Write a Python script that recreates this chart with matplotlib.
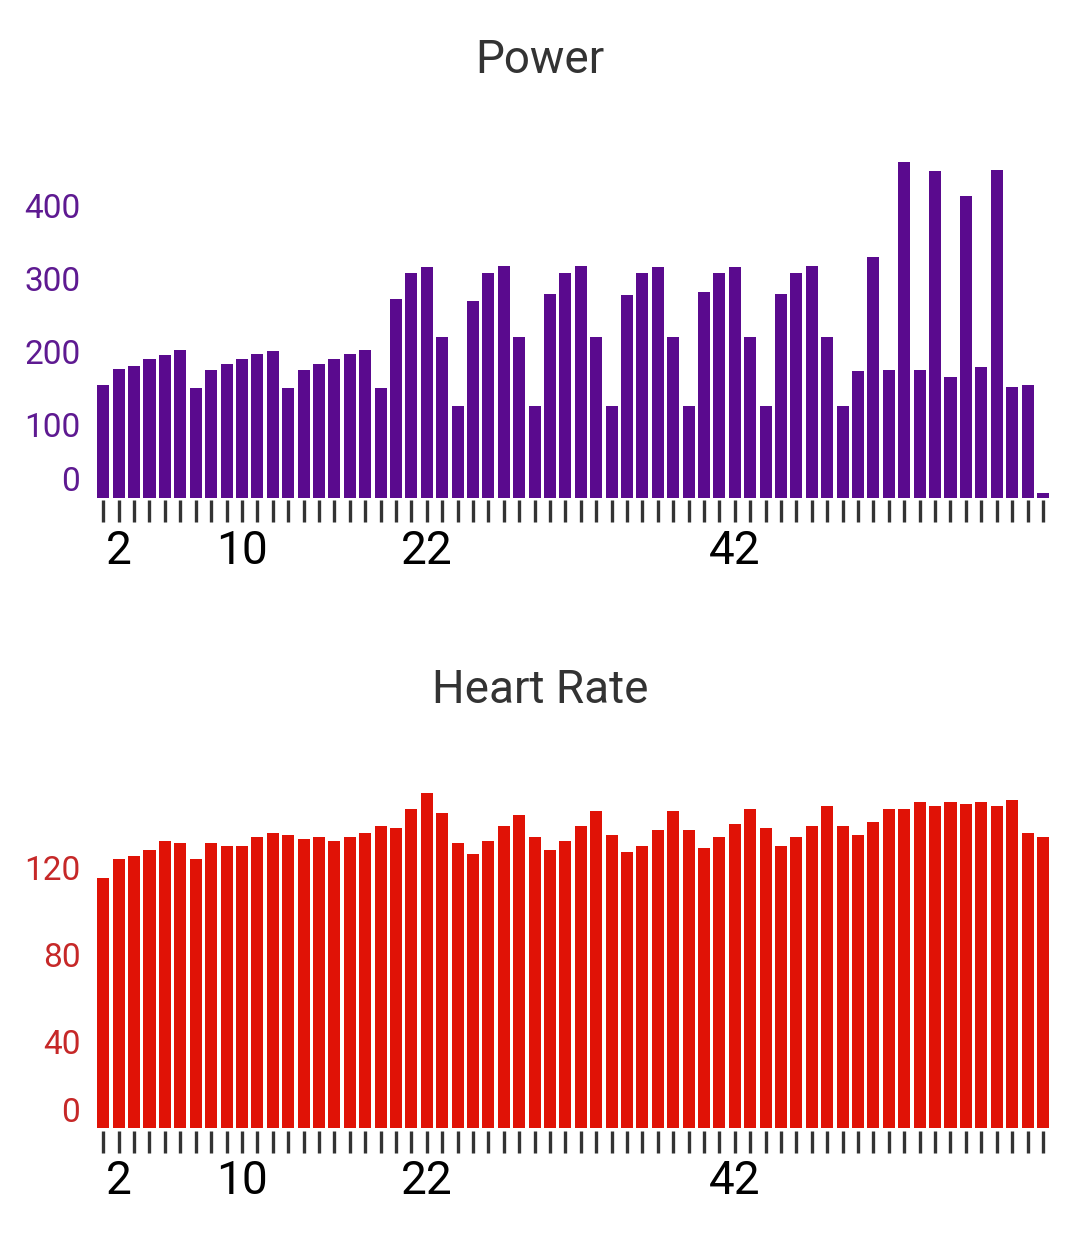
import matplotlib.pyplot as plt
import matplotlib.transforms as mtransforms

plt.rcParams['font.family'] = ['Roboto', 'DejaVu Sans']

# Data
laps = list(range(1, 63))
power = [155, 177, 181, 190, 195, 202, 150, 175, 183, 190, 197, 201,
         150, 175, 183, 190, 197, 202, 150, 272, 308, 316, 220, 126,
         270, 308, 318, 220, 126, 279, 308, 318, 220, 126, 278, 308,
         316, 220, 126, 282, 308, 316, 220, 126, 279, 308, 318, 220,
         126, 173, 330, 175, 460, 175, 447, 166, 414, 179, 449, 151,
         155, 7]
heart_rate = [115, 124, 125, 128, 132, 131, 124, 131, 130, 130, 134, 136,
              135, 133, 134, 132, 134, 136, 139, 138, 147, 154, 145, 131,
              126, 132, 139, 144, 134, 128, 132, 139, 146, 135, 127, 130,
              137, 146, 137, 129, 134, 140, 147, 138, 130, 134, 139, 148,
              139, 135, 141, 147, 147, 150, 148, 150, 149, 150, 148, 151,
              136, 134]
shown_labels = [2, 10, 22, 42]
power_ticks = [0, 100, 200, 300, 400]
hr_ticks = [0, 40, 80, 120]

fig = plt.figure(figsize=(10.8, 12.35), dpi=100)

panels = [
    ('Power', power, power_ticks, (0, 490), '#5a0a8e', '#5e1a91', 0.597, 73),
    ('Heart Rate', heart_rate, hr_ticks, (0, 164.6), '#e01206', '#c62828', 0.0866, 703),
]

for title, values, yticks, ylim, bar_color, label_color, bottom, title_y in panels:
    ax = fig.add_axes([0.0885, bottom, 0.8843, 0.2896])
    ax.bar(laps, values, width=0.78, color=bar_color)
    ax.set_xlim(0.5, 62.5)
    ax.set_ylim(*ylim)

    ax.set_xticks(laps)
    ax.set_xticklabels([str(n) if n in shown_labels else '' for n in laps])
    ax.tick_params(axis='x', direction='out', length=15.5, width=2.4,
                   color='#333333', labelsize=33, labelcolor='black', pad=5)
    ax.spines['bottom'].set_position(('outward', 2))

    ax.set_yticks(yticks)
    ax.set_yticklabels([str(t) for t in yticks])
    ax.tick_params(axis='y', length=0, labelsize=24, labelcolor=label_color, pad=11)
    # the zero label sits a little above the baseline
    zero = ax.get_yticklabels()[0]
    zero.set_transform(zero.get_transform() +
                       mtransforms.ScaledTranslation(0, 19 / 100, fig.dpi_scale_trans))

    for s in ax.spines.values():
        s.set_visible(False)

    fig.text(0.5, 1 - title_y / 1235, title, ha='center', va='baseline',
             fontsize=33, color='#333333')

fig.savefig('out.png', dpi=100, facecolor='white')
